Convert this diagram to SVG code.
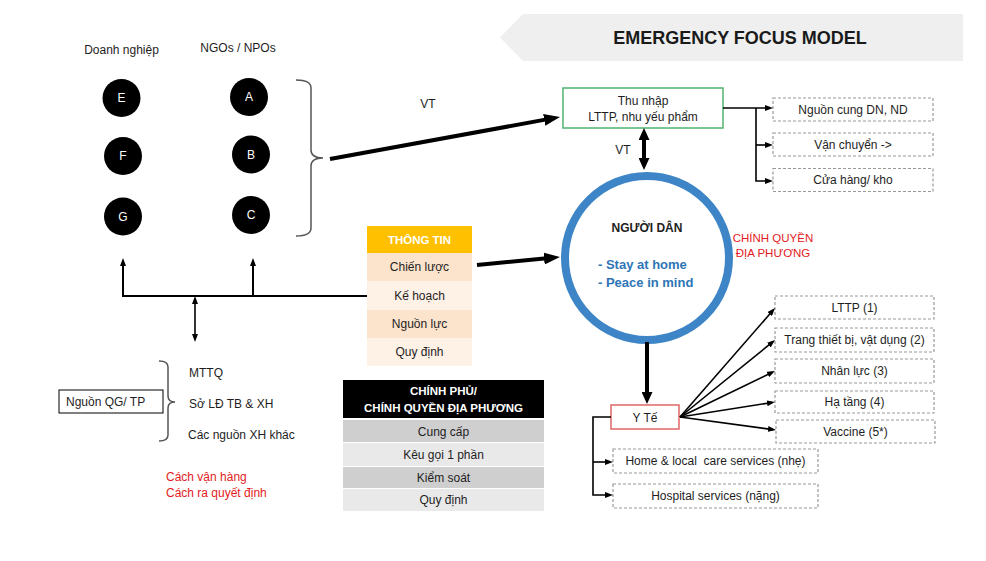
<svg xmlns="http://www.w3.org/2000/svg" width="986" height="561" viewBox="0 0 986 561">
<style>
text{font-family:"Liberation Sans",Arial,sans-serif;font-size:12px;fill:#1e1e1e}
.c{text-anchor:middle}
.w{fill:#fff}
.b{font-weight:bold}
.red{fill:#e31b23}
.dash{fill:#fff;stroke:#9a9a9a;stroke-width:1.2;stroke-dasharray:3 2}
.ln{fill:none;stroke:#000;stroke-width:1.6}
.thick{fill:none;stroke:#000;stroke-width:4}
.brace{fill:none;stroke:#555;stroke-width:1.5}
</style>
<defs>
<marker id="ah" viewBox="0 0 8 6" refX="5" refY="3" markerWidth="8" markerHeight="6" markerUnits="userSpaceOnUse" orient="auto-start-reverse"><path d="M0,0 L8,3 L0,6 z" fill="#000"/></marker>
<marker id="ahT" viewBox="0 0 16 12" refX="8" refY="6" markerWidth="16" markerHeight="12" markerUnits="userSpaceOnUse" orient="auto-start-reverse"><path d="M0,0 L16,6 L0,12 z" fill="#000"/></marker>
<marker id="ahM" viewBox="0 0 12 11" refX="6" refY="5.5" markerWidth="12" markerHeight="11" markerUnits="userSpaceOnUse" orient="auto-start-reverse"><path d="M0,0 L12,5.5 L0,11 z" fill="#000"/></marker>
</defs>

<g id="title">
<path d="M523,14 L963,14 L963,61 L523,61 L500,37.5 Z" fill="#efefef"/>
<text class="c b" x="740" y="44" style="font-size:18px;fill:#1a1a1a">EMERGENCY FOCUS MODEL</text>
</g>

<g id="labels-top">
<text class="c" x="121.5" y="54">Doanh nghiệp</text>
<text class="c" x="238" y="52">NGOs / NPOs</text>
</g>

<g id="node-E"><circle cx="121.5" cy="98" r="19" fill="#000"/><text class="c w" x="121.5" y="102">E</text></g>
<g id="node-F"><circle cx="123" cy="156" r="19" fill="#000"/><text class="c w" x="123" y="160">F</text></g>
<g id="node-G"><circle cx="123" cy="216.5" r="19" fill="#000"/><text class="c w" x="123" y="220.5">G</text></g>
<g id="node-A"><circle cx="249" cy="97" r="19" fill="#000"/><text class="c w" x="249" y="101">A</text></g>
<g id="node-B"><circle cx="251" cy="154.5" r="19" fill="#000"/><text class="c w" x="251" y="158.5">B</text></g>
<g id="node-C"><circle cx="251" cy="215" r="19" fill="#000"/><text class="c w" x="251" y="219">C</text></g>

<g id="brace-ngo"><path class="brace" d="M296,80 Q311,80 311,88 L311,150 Q311,158 323,158 Q311,158 311,166 L311,228 Q311,236 296,236"/></g>

<g id="node-thunhap">
<rect x="563" y="88" width="160" height="40" fill="#fff" stroke="#4fb36e" stroke-width="1.5"/>
<text class="c" x="643" y="105">Thu nhập</text>
<text class="c" x="643" y="121">LTTP, nhu yếu phẩm</text>
</g>

<g id="node-nguoncung"><rect class="dash" x="773" y="98" width="160" height="23"/><text class="c" x="853" y="113.5">Nguồn cung DN, ND</text></g>
<g id="node-vanchuyen"><rect class="dash" x="773" y="133" width="160" height="23"/><text class="c" x="853" y="148.5">Vận chuyển -&gt;</text></g>
<g id="node-cuahang"><rect class="dash" x="773" y="168.5" width="160" height="23"/><text class="c" x="853" y="184">Cửa hàng/ kho</text></g>

<g id="node-nguoidan">
<circle cx="647" cy="258" r="82" fill="#fff" stroke="#3d85c6" stroke-width="8"/>
<text class="c b" x="647" y="232">NGƯỜI DÂN</text>
<text class="b" x="598" y="269" style="font-size:13px;fill:#2e75b6">- Stay at home</text>
<text class="b" x="598" y="286.5" style="font-size:13px;fill:#2e75b6">- Peace in mind</text>
</g>

<g id="label-cq">
<text class="c red" x="773" y="242" style="font-size:11.5px">CHÍNH QUYỀN</text>
<text class="c red" x="773" y="257" style="font-size:11.5px">ĐỊA PHƯƠNG</text>
</g>

<g id="node-thongtin">
<rect x="367" y="226" width="105" height="27" fill="#ffc000"/>
<text class="c w b" x="419.5" y="244" style="font-size:11.5px">THÔNG TIN</text>
<rect x="367" y="253" width="105" height="28" fill="#fce3cc"/>
<rect x="367" y="281" width="105" height="29" fill="#fef1e6"/>
<rect x="367" y="310" width="105" height="28" fill="#fce3cc"/>
<rect x="367" y="338" width="105" height="28" fill="#fef1e6"/>
<text class="c" x="419.5" y="271">Chiến lược</text>
<text class="c" x="419.5" y="299.5">Kế hoạch</text>
<text class="c" x="419.5" y="328">Nguồn lực</text>
<text class="c" x="419.5" y="356">Quy định</text>
</g>

<g id="node-chinhphu">
<rect x="343" y="380" width="201" height="38" fill="#000"/>
<text class="c w b" x="443.5" y="395" style="font-size:11.5px">CHÍNH PHỦ/</text>
<text class="c w b" x="443.5" y="412" style="font-size:11.5px">CHÍNH QUYỀN ĐỊA PHƯƠNG</text>
<rect x="343" y="420" width="201" height="22" fill="#cfcfcf"/>
<rect x="343" y="443" width="201" height="23" fill="#e9e9e9"/>
<rect x="343" y="467" width="201" height="21" fill="#cfcfcf"/>
<rect x="343" y="489" width="201" height="22" fill="#e9e9e9"/>
<text class="c" x="443.5" y="435.5">Cung cấp</text>
<text class="c" x="443.5" y="458.5">Kêu gọi 1 phần</text>
<text class="c" x="443.5" y="481.5">Kiểm soát</text>
<text class="c" x="443.5" y="504">Quy định</text>
</g>

<g id="node-nguonqg">
<rect x="59" y="390" width="104" height="23" fill="#fff" stroke="#000" stroke-width="1"/>
<text x="66" y="405.5">Nguồn QG/ TP</text>
</g>
<g id="brace-nguon"><path class="brace" d="M159,361 Q168,361 168,367 L168,396 Q168,402 175,402 Q168,402 168,408 L168,435 Q168,441 159,441"/></g>
<g id="labels-nguon">
<text x="189" y="377">MTTQ</text>
<text x="189" y="407.5">Sở LĐ TB &amp; XH</text>
<text x="188" y="438.5">Các nguồn XH khác</text>
</g>
<g id="labels-red">
<text class="red" x="166" y="481">Cách vận hàng</text>
<text class="red" x="166" y="497">Cách ra quyết định</text>
</g>

<g id="node-yte">
<rect x="611" y="405" width="68" height="24" fill="#fff" stroke="#e06666" stroke-width="1.5"/>
<text class="c" x="645" y="421.5">Y Tế</text>
</g>

<g id="node-lttp"><rect class="dash" x="775" y="296" width="159" height="23"/><text class="c" x="854.5" y="311.5">LTTP (1)</text></g>
<g id="node-trangthietbi"><rect class="dash" x="775" y="328" width="159" height="24"/><text class="c" x="854.5" y="344">Trang thiết bị, vật dụng (2)</text></g>
<g id="node-nhanluc"><rect class="dash" x="775" y="359" width="159" height="24"/><text class="c" x="854.5" y="375">Nhân lực (3)</text></g>
<g id="node-hatang"><rect class="dash" x="775" y="391" width="159" height="22"/><text class="c" x="854.5" y="406">Hạ tầng (4)</text></g>
<g id="node-vaccine"><rect class="dash" x="776" y="420" width="159" height="23"/><text class="c" x="855.5" y="435.5">Vaccine (5*)</text></g>
<g id="node-home"><rect class="dash" x="613" y="449" width="205" height="24"/><text class="c" x="715.5" y="465" xml:space="preserve">Home &amp; local  care services (nhẹ)</text></g>
<g id="node-hospital"><rect class="dash" x="613" y="484" width="205" height="24"/><text class="c" x="715.5" y="500">Hospital services (nặng)</text></g>

<g id="connectors">
<line class="thick" x1="330" y1="159" x2="552.1" y2="118.4" marker-end="url(#ahT)"/>
<text class="c" x="428" y="108">VT</text>
<line class="thick" x1="644" y1="134" x2="644" y2="164" marker-start="url(#ahM)" marker-end="url(#ahM)"/>
<text class="c" x="623" y="154">VT</text>
<line class="thick" x1="477" y1="265" x2="552" y2="257.8" marker-end="url(#ahT)"/>
<line class="thick" x1="647" y1="342" x2="647" y2="398" marker-end="url(#ahM)"/>

<line class="ln" x1="723" y1="108" x2="770" y2="108" marker-end="url(#ah)"/>
<polyline class="ln" points="756,108 756,181 770,181" marker-end="url(#ah)"/>
<line class="ln" x1="756" y1="145" x2="770" y2="145" marker-end="url(#ah)"/>

<polyline class="ln" points="123,261 123,296 367,296" marker-start="url(#ah)" style="stroke-width:2"/>
<line class="ln" x1="253" y1="296" x2="253" y2="261" marker-end="url(#ah)" style="stroke-width:2"/>
<line class="ln" x1="195" y1="299" x2="195" y2="339" marker-start="url(#ah)" marker-end="url(#ah)"/>

<line class="ln" x1="680" y1="417" x2="773" y2="310.3" marker-end="url(#ah)"/>
<line class="ln" x1="680" y1="417" x2="772.7" y2="341.9" marker-end="url(#ah)"/>
<line class="ln" x1="680" y1="417" x2="772.3" y2="372.3" marker-end="url(#ah)"/>
<line class="ln" x1="680" y1="417" x2="772" y2="402.5" marker-end="url(#ah)"/>
<line class="ln" x1="680" y1="417" x2="773" y2="429.6" marker-end="url(#ah)"/>

<polyline class="ln" points="611,417 593,417 593,495 610,495" marker-end="url(#ah)"/>
<line class="ln" x1="593" y1="462" x2="610" y2="462" marker-end="url(#ah)"/>
</g>
</svg>
